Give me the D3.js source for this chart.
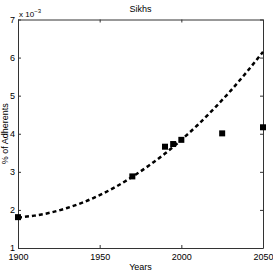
<!DOCTYPE html>
<html lang="en">
<head>
    <meta charset="UTF-8">
    <title>Sikhs</title>
    <script src="https://d3js.org/d3.v7.min.js"></script>
    <style>
        body { margin: 0; padding: 0; background: #fff; }
        svg { display: block; font-family: "Liberation Sans", Arial, sans-serif; }
        .tick text { font-size: 9px; fill: #000; }
    </style>
</head>
<body>
    <svg id="chart"></svg>
    <script>
        // observed adherents (x 1e-3 %)
        const years = [1900, 1970, 1990, 1995, 2000, 2025, 2050];
        const values = [1.81, 2.88, 3.66, 3.73, 3.84, 4.01, 4.17];

        // trend curve
        const trendYears = [1900, 1910, 1920, 1930, 1940, 1950, 1960, 1970, 1980, 1990, 2000, 2010, 2020, 2030, 2040, 2050];
        const trendValues = [1.80, 1.85, 1.93, 2.05, 2.20, 2.39, 2.61, 2.87, 3.16, 3.48, 3.84, 4.23, 4.66, 5.12, 5.62, 6.15];

        const xTicks = [1900, 1950, 2000, 2050];
        const yTicks = [1, 2, 3, 4, 5, 6, 7];

        const width = 273, height = 273;
        const margin = { top: 19.5, right: 10, bottom: 25, left: 18 };

        const svg = d3.select("#chart").attr("width", width).attr("height", height);

        const x = d3.scaleLinear().domain([1900, 2050]).range([margin.left, width - margin.right]);
        const y = d3.scaleLinear().domain([1, 7]).range([height - margin.bottom, margin.top]);

        // axes with inward ticks, box on all sides
        const axisColor = "#333";
        function styleAxis(g) {
            g.select(".domain").attr("stroke", axisColor);
            g.selectAll(".tick line").attr("stroke", axisColor);
        }

        svg.append("g")
            .attr("transform", `translate(0,${y(1)})`)
            .call(d3.axisBottom(x).tickValues(xTicks).tickFormat(d3.format("d")).tickSizeInner(-3).tickSizeOuter(0).tickPadding(6))
            .call(styleAxis);

        svg.append("g")
            .attr("transform", `translate(0,${y(7)})`)
            .call(d3.axisTop(x).tickValues(xTicks).tickFormat("").tickSizeInner(-3).tickSizeOuter(0))
            .call(styleAxis);

        svg.append("g")
            .attr("transform", `translate(${x(1900)},0)`)
            .call(d3.axisLeft(y).tickValues(yTicks).tickFormat(d3.format("d")).tickSizeInner(-3).tickSizeOuter(0).tickPadding(3))
            .call(styleAxis);

        svg.append("g")
            .attr("transform", `translate(${x(2050)},0)`)
            .call(d3.axisRight(y).tickValues(yTicks).tickFormat("").tickSizeInner(-3).tickSizeOuter(0))
            .call(styleAxis);

        // trend line
        const line = d3.line()
            .x((d, i) => x(trendYears[i]))
            .y(d => y(d))
            .curve(d3.curveMonotoneX);

        svg.append("path")
            .datum(trendValues)
            .attr("fill", "none")
            .attr("stroke", "#000")
            .attr("stroke-width", 2.5)
            .attr("stroke-dasharray", "4,3")
            .attr("d", line);

        // square markers
        const s = 6;
        svg.selectAll(".pt")
            .data(values)
            .enter().append("rect")
            .attr("class", "pt")
            .attr("x", (d, i) => x(years[i]) - s / 2)
            .attr("y", d => y(d) - s / 2)
            .attr("width", s)
            .attr("height", s)
            .attr("fill", "#000");

        // labels
        svg.append("text")
            .attr("x", (x(1900) + x(2050)) / 2)
            .attr("y", 12)
            .attr("text-anchor", "middle")
            .attr("font-size", 9)
            .text("Sikhs");

        svg.append("text")
            .attr("x", (x(1900) + x(2050)) / 2)
            .attr("y", 270)
            .attr("text-anchor", "middle")
            .attr("font-size", 9)
            .text("Years");

        svg.append("text")
            .attr("transform", "rotate(-90)")
            .attr("x", -(y(1) + y(7)) / 2)
            .attr("y", 8)
            .attr("text-anchor", "middle")
            .attr("font-size", 9)
            .text("% of Adherents");

        const exp = svg.append("text")
            .attr("x", 19)
            .attr("y", 17)
            .attr("font-size", 8);
        exp.append("tspan").text("x 10");
        exp.append("tspan").attr("dy", -4).attr("font-size", 6).text("\u22123");
    </script>
</body>
</html>
